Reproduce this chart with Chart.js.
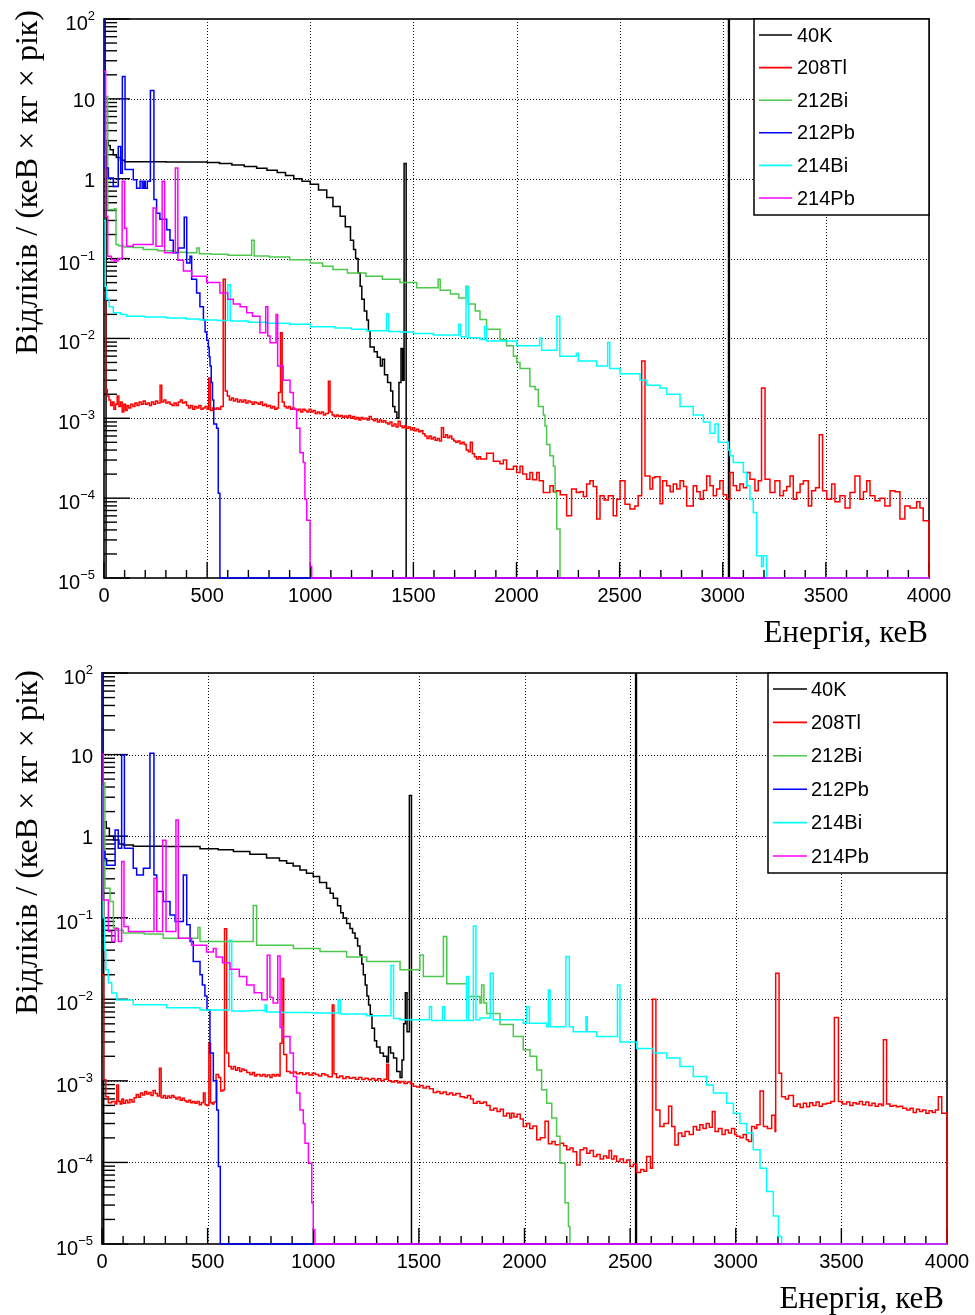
<!DOCTYPE html>
<html><head><meta charset="utf-8">
<script src="https://cdn.jsdelivr.net/npm/chart.js@4.4.0/dist/chart.umd.min.js"></script>
<style>
html,body{margin:0;padding:0;background:#fff;}
#wrap{position:relative;width:975px;height:1315px;overflow:hidden;}
.pane{position:absolute;left:0;width:975px;}
canvas{display:block;}
</style></head><body>
<div id="wrap">
<div class="pane" style="top:0;height:655px"><canvas id="c1" width="975" height="655"></canvas></div>
<div class="pane" style="top:655px;height:660px"><canvas id="c2" width="975" height="660"></canvas></div>
</div>
<script>
// ---------- tick labels / names ----------
const xTickValues = [0,500,1000,1500,2000,2500,3000,3500,4000];
const yTickExponents = [-5,-4,-3,-2,-1,0,1,2];
const seriesNames = ['40K','208Tl','212Bi','212Pb','214Bi','214Pb'];
const xAxisTitle = 'Енергія, кеВ';
const yAxisTitle = 'Відліків / (кеВ × кг × рік)';

// ---------- top panel: [energy keV (bin start), counts] ----------
const topK40 = [[0,1e-5],[10,3.0],[20,2.6],[30,2.3],[45,2.0],[60,1.85],[80,1.7],[100,1.63],[300,1.62],[500,1.6],[560,1.55],[620,1.48],[680,1.42],[740,1.35],[790,1.28],[840,1.2],[880,1.1],[920,1.0],[960,0.93],[1000,0.85],[1040,0.72],[1080,0.58],[1110,0.45],[1145,0.34],[1170,0.25],[1195,0.17],[1210,0.13],[1220,0.1],[1232,0.066],[1242,0.045],[1250,0.031],[1262,0.022],[1274,0.017],[1282,0.0125],[1290,0.0078],[1310,0.0068],[1325,0.0058],[1340,0.0045],[1350,0.0055],[1360,0.0035],[1375,0.0028],[1390,0.0022],[1400,0.0014],[1410,0.0012],[1420,0.001],[1430,0.0028],[1440,0.0075],[1448,0.003],[1455,1.55],[1465,1e-5],[3028,1000],[3032,1e-5],[4000,1e-5]];
const topTl208 = [[0,0.037],[8,2.3e-3],[16,1.9e-3],[24,1.7e-3],[32,1.45e-3],[40,1.6e-3],[48,1.3e-3],[56,1.5e-3],[64,1.9e-3],[72,1.4e-3],[80,1.6e-3],[88,1.2e-3],[96,1.5e-3],[104,1.25e-3],[112,1.45e-3],[120,1.35e-3],[130,1.5e-3],[140,1.4e-3],[150,1.55e-3],[160,1.45e-3],[170,1.6e-3],[180,1.5e-3],[190,1.65e-3],[200,1.5e-3],[210,1.55e-3],[220,1.45e-3],[230,1.6e-3],[240,1.5e-3],[250,1.65e-3],[260,1.55e-3],[272,2.6e-3],[280,1.6e-3],[290,1.7e-3],[300,1.55e-3],[310,1.6e-3],[320,1.5e-3],[330,1.45e-3],[340,1.55e-3],[350,1.45e-3],[360,1.6e-3],[370,1.7e-3],[380,1.55e-3],[390,1.6e-3],[400,1.45e-3],[410,1.35e-3],[420,1.45e-3],[430,1.3e-3],[440,1.4e-3],[450,1.35e-3],[460,1.45e-3],[470,1.3e-3],[480,1.35e-3],[490,1.4e-3],[500,1.3e-3],[508,3.2e-3],[516,1.25e-3],[526,1.35e-3],[536,1.3e-3],[546,1.35e-3],[556,1.3e-3],[566,1.4e-3],[578,0.055],[588,2.2e-3],[598,1.9e-3],[608,1.7e-3],[618,1.8e-3],[628,1.65e-3],[638,1.75e-3],[648,1.6e-3],[658,1.7e-3],[668,1.6e-3],[678,1.7e-3],[688,1.55e-3],[698,1.65e-3],[708,1.6e-3],[718,1.5e-3],[728,1.6e-3],[738,1.55e-3],[748,1.5e-3],[758,1.6e-3],[768,1.45e-3],[778,1.5e-3],[788,1.4e-3],[798,1.45e-3],[808,1.35e-3],[818,1.4e-3],[828,1.3e-3],[838,1.35e-3],[846,2.1e-3],[856,0.0118],[864,1.6e-3],[874,1.4e-3],[884,1.35e-3],[894,1.4e-3],[904,1.3e-3],[914,1.35e-3],[924,1.3e-3],[934,1.25e-3],[944,1.3e-3],[954,1.2e-3],[964,1.3e-3],[974,1.25e-3],[984,1.2e-3],[994,1.3e-3],[1004,1.2e-3],[1014,1.25e-3],[1024,1.15e-3],[1034,1.2e-3],[1044,1.15e-3],[1054,1.2e-3],[1064,1.1e-3],[1074,1.15e-3],[1088,2.9e-3],[1096,1.2e-3],[1106,1.1e-3],[1116,1.05e-3],[1126,1.1e-3],[1136,1.05e-3],[1146,1.08e-3],[1156,1.02e-3],[1166,1.07e-3],[1176,1.02e-3],[1186,1.08e-3],[1196,1.0e-3],[1206,1.05e-3],[1216,0.98e-3],[1226,1.02e-3],[1236,0.95e-3],[1246,1.02e-3],[1256,0.98e-3],[1266,1.0e-3],[1276,0.95e-3],[1286,1.05e-3],[1296,0.97e-3],[1306,0.93e-3],[1316,0.98e-3],[1326,0.9e-3],[1336,0.95e-3],[1346,0.9e-3],[1356,0.93e-3],[1366,0.88e-3],[1376,0.85e-3],[1386,0.9e-3],[1396,0.8e-3],[1406,0.85e-3],[1416,0.78e-3],[1426,0.92e-3],[1436,0.8e-3],[1446,0.76e-3],[1456,0.8e-3],[1466,0.75e-3],[1476,0.78e-3],[1486,0.72e-3],[1496,0.76e-3],[1506,0.7e-3],[1516,0.73e-3],[1526,0.68e-3],[1536,0.7e-3],[1546,0.64e-3],[1556,0.6e-3],[1566,0.56e-3],[1576,0.6e-3],[1586,0.55e-3],[1596,0.58e-3],[1606,0.53e-3],[1616,0.56e-3],[1626,0.52e-3],[1636,0.76e-3],[1646,0.58e-3],[1656,0.62e-3],[1666,0.57e-3],[1676,0.6e-3],[1686,0.55e-3],[1696,0.52e-3],[1706,0.5e-3],[1716,0.52e-3],[1726,0.48e-3],[1736,0.5e-3],[1746,0.47e-3],[1756,0.4e-3],[1766,0.38e-3],[1776,0.5e-3],[1786,0.36e-3],[1796,0.33e-3],[1806,0.31e-3],[1816,0.33e-3],[1826,0.31e-3],[1855,0.365e-3],[1888,0.29e-3],[1920,0.27e-3],[1936,0.3e-3],[1952,0.23e-3],[1985,0.25e-3],[2001,0.21e-3],[2017,0.25e-3],[2030,0.2e-3],[2049,0.173e-3],[2065,0.21e-3],[2078,0.17e-3],[2098,0.21e-3],[2110,0.165e-3],[2130,0.118e-3],[2162,0.143e-3],[2178,0.12e-3],[2195,0.124e-3],[2212,0.11e-3],[2243,0.06e-3],[2267,0.13e-3],[2290,0.118e-3],[2308,0.12e-3],[2324,0.105e-3],[2340,0.15e-3],[2356,0.165e-3],[2372,0.14e-3],[2389,0.055e-3],[2405,0.107e-3],[2425,0.095e-3],[2445,0.107e-3],[2469,0.06e-3],[2486,0.097e-3],[2502,0.165e-3],[2526,0.084e-3],[2550,0.073e-3],[2574,0.08e-3],[2590,0.107e-3],[2607,5.2e-3],[2623,0.19e-3],[2647,0.13e-3],[2660,0.18e-3],[2671,0.185e-3],[2696,0.085e-3],[2709,0.165e-3],[2728,0.143e-3],[2745,0.12e-3],[2760,0.15e-3],[2777,0.13e-3],[2793,0.165e-3],[2810,0.14e-3],[2825,0.08e-3],[2857,0.143e-3],[2874,0.12e-3],[2890,0.097e-3],[2906,0.125e-3],[2922,0.19e-3],[2938,0.143e-3],[2954,0.107e-3],[2970,0.13e-3],[2986,0.165e-3],[3002,0.11e-3],[3019,0.097e-3],[3035,0.21e-3],[3051,0.143e-3],[3067,0.125e-3],[3083,0.15e-3],[3100,0.135e-3],[3116,0.21e-3],[3132,0.173e-3],[3156,0.124e-3],[3172,0.165e-3],[3188,2.4e-3],[3205,0.173e-3],[3229,0.118e-3],[3253,0.165e-3],[3277,0.107e-3],[3294,0.124e-3],[3310,0.14e-3],[3326,0.19e-3],[3342,0.097e-3],[3358,0.118e-3],[3375,0.15e-3],[3391,0.165e-3],[3415,0.08e-3],[3431,0.124e-3],[3450,0.135e-3],[3468,6.2e-4],[3484,0.124e-3],[3504,0.097e-3],[3528,0.15e-3],[3544,0.09e-3],[3568,0.107e-3],[3593,0.075e-3],[3617,0.118e-3],[3641,0.19e-3],[3665,0.097e-3],[3682,0.12e-3],[3698,0.165e-3],[3714,0.107e-3],[3738,0.093e-3],[3762,0.1e-3],[3786,0.08e-3],[3811,0.124e-3],[3835,0.12e-3],[3859,0.055e-3],[3883,0.08e-3],[3908,0.075e-3],[3940,0.09e-3],[3956,0.075e-3],[3972,0.052e-3],[4000,1e-5]];
const topBi212 = [[0,2.0],[8,10.7],[18,0.41],[50,0.42],[58,0.15],[70,0.145],[95,0.14],[140,0.138],[190,0.13],[260,0.125],[330,0.12],[400,0.118],[450,0.136],[462,0.115],[520,0.113],[600,0.11],[716,0.17],[728,0.108],[800,0.105],[900,0.097],[1000,0.088],[1060,0.08],[1110,0.073],[1180,0.066],[1270,0.06],[1350,0.055],[1435,0.05],[1516,0.043],[1620,0.055],[1630,0.04],[1680,0.036],[1720,0.032],[1755,0.045],[1765,0.027],[1800,0.022],[1823,0.0173],[1855,0.013],[1920,0.0097],[1952,0.0081],[1985,0.006],[2001,0.005],[2017,0.0042],[2065,0.0025],[2090,0.0023],[2106,0.0014],[2130,0.0011],[2138,8e-4],[2146,4.7e-4],[2162,3.4e-4],[2179,2.5e-4],[2187,1.17e-4],[2195,4.1e-5],[2211,1e-5],[4000,1e-5]];
const topPb212 = [[0,300],[6,1.36],[21,1.02],[45,0.8],[69,2.53],[81,1.17],[89,19],[102,1.3],[142,0.97],[158,0.76],[175,0.93],[185,0.76],[193,0.93],[200,0.76],[210,0.93],[225,12.7],[242,0.55],[255,0.37],[271,0.31],[304,0.23],[320,0.17],[336,0.118],[360,0.136],[389,0.33],[401,0.088],[417,0.107],[425,0.055],[449,0.037],[465,0.025],[482,0.017],[490,0.012],[498,0.0095],[506,0.0077],[510,0.0059],[514,0.0045],[520,0.0028],[526,0.0017],[532,8.5e-4],[546,7.5e-4],[554,1.15e-4],[562,1e-5],[4000,1e-5]];
const topBi214 = [[0,0.3],[6,0.045],[13,0.031],[25,0.025],[45,0.021],[80,0.02],[110,0.019],[200,0.0185],[304,0.018],[400,0.0175],[465,0.017],[550,0.0168],[600,0.047],[612,0.0165],[700,0.016],[789,0.0155],[900,0.015],[1000,0.014],[1120,0.0135],[1200,0.013],[1273,0.0125],[1370,0.0203],[1380,0.0122],[1435,0.012],[1500,0.0115],[1597,0.011],[1720,0.015],[1730,0.0105],[1755,0.044],[1768,0.0102],[1823,0.0097],[1845,0.0142],[1855,0.0093],[2001,0.0081],[2112,0.0101],[2122,0.0071],[2196,0.019],[2210,0.006],[2290,0.0065],[2300,0.0052],[2389,0.0045],[2442,0.0089],[2452,0.0042],[2502,0.0036],[2599,0.003],[2631,0.0026],[2696,0.0024],[2728,0.002],[2793,0.0014],[2857,0.0011],[2906,9e-4],[2938,6.5e-4],[2962,8.5e-4],[2978,5e-4],[3027,4e-4],[3035,3.4e-4],[3051,2.8e-4],[3100,2.1e-4],[3116,1.43e-4],[3132,9.7e-5],[3148,6.6e-5],[3164,1.9e-5],[3188,1.4e-5],[3197,1.9e-5],[3213,1e-5],[4000,1e-5]];
const topPb214 = [[0,22],[8,0.34],[18,0.107],[36,0.097],[52,0.093],[68,0.1],[88,0.93],[100,0.24],[110,0.143],[142,0.15],[238,0.43],[252,0.143],[282,0.93],[294,0.118],[346,1.36],[358,0.095],[385,0.07],[425,0.06],[498,0.05],[562,0.037],[600,0.031],[627,0.027],[660,0.025],[692,0.021],[720,0.019],[756,0.0118],[784,0.025],[794,0.0107],[805,0.0088],[834,0.02],[842,0.0045],[869,0.003],[902,0.0021],[918,0.0013],[934,7.5e-4],[950,3.7e-4],[966,2.8e-4],[974,9.7e-5],[983,5.3e-5],[999,1.4e-5],[1007,1e-5],[4000,1e-5]];

// ---------- bottom panel ----------
const botK40 = [[0,1e-5],[8,1.5],[20,1.25],[35,1.0],[55,0.9],[80,0.8],[101,0.78],[148,0.75],[300,0.745],[464,0.7],[550,0.68],[622,0.65],[700,0.6],[779,0.54],[840,0.5],[874,0.466],[905,0.43],[937,0.385],[968,0.35],[1000,0.32],[1030,0.27],[1063,0.23],[1080,0.2],[1095,0.173],[1115,0.14],[1130,0.115],[1142,0.099],[1158,0.085],[1174,0.074],[1186,0.065],[1198,0.056],[1210,0.045],[1221,0.035],[1230,0.027],[1237,0.02],[1246,0.015],[1254,0.011],[1262,0.0085],[1270,0.0065],[1278,0.0044],[1290,0.0031],[1300,0.0026],[1316,0.0022],[1332,0.002],[1348,0.0017],[1356,0.0026],[1366,0.0022],[1380,0.0019],[1395,0.0013],[1411,0.0011],[1420,0.0018],[1428,0.005],[1436,0.012],[1444,0.004],[1455,3.14],[1465,1e-5],[2526,1000],[2530,1e-5],[4000,1e-5]];
const botTl208 = [[0,0.02],[8,1.03e-3],[18,6.4e-4],[30,5.4e-4],[46,5.6e-4],[62,5.2e-4],[70,8.9e-4],[78,5.6e-4],[86,5.2e-4],[94,6e-4],[102,5.3e-4],[112,5.8e-4],[122,5.4e-4],[132,5.9e-4],[142,5.5e-4],[152,6.2e-4],[162,6.8e-4],[172,6.3e-4],[182,7.1e-4],[192,6.7e-4],[202,7.4e-4],[212,6.9e-4],[222,7.2e-4],[232,6.6e-4],[242,7.6e-4],[252,7.0e-4],[262,6.5e-4],[272,1.43e-3],[280,6.2e-4],[290,6.6e-4],[300,6.1e-4],[310,6.5e-4],[320,6.2e-4],[330,6.6e-4],[340,6.3e-4],[350,6.0e-4],[360,6.3e-4],[370,5.8e-4],[380,6.1e-4],[390,5.7e-4],[400,5.5e-4],[410,5.8e-4],[420,5.4e-4],[430,5.6e-4],[440,5.3e-4],[450,5.6e-4],[460,5.1e-4],[470,5.4e-4],[480,7.1e-4],[488,5.1e-4],[496,5.0e-4],[506,2.9e-3],[514,5.4e-4],[522,5.2e-4],[530,5.5e-4],[540,1.2e-3],[552,1.1e-3],[562,7.5e-4],[572,7.7e-4],[580,0.073],[590,2.2e-3],[600,1.5e-3],[612,1.4e-3],[622,1.5e-3],[632,1.35e-3],[642,1.45e-3],[652,1.3e-3],[662,1.4e-3],[672,1.35e-3],[685,1.27e-3],[700,1.2e-3],[712,1.27e-3],[722,1.15e-3],[732,1.2e-3],[748,1.15e-3],[760,1.2e-3],[772,1.13e-3],[782,1.18e-3],[795,1.1e-3],[805,1.2e-3],[815,1.15e-3],[825,1.2e-3],[835,1.15e-3],[843,2.9e-3],[852,0.018],[860,2.1e-3],[874,1.3e-3],[890,1.25e-3],[906,1.28e-3],[920,1.22e-3],[935,1.26e-3],[950,1.2e-3],[965,1.25e-3],[980,1.18e-3],[995,1.24e-3],[1010,1.2e-3],[1025,1.15e-3],[1040,1.22e-3],[1055,1.18e-3],[1070,1.12e-3],[1090,8.5e-3],[1098,1.22e-3],[1110,1.1e-3],[1125,1.15e-3],[1140,1.07e-3],[1155,1.12e-3],[1170,1.08e-3],[1185,1.1e-3],[1200,1.05e-3],[1215,1.1e-3],[1230,1.04e-3],[1245,1.08e-3],[1260,1.03e-3],[1275,1.07e-3],[1290,1.02e-3],[1305,1.06e-3],[1320,1.0e-3],[1335,1.05e-3],[1348,1.6e-3],[1356,1.0e-3],[1370,0.97e-3],[1385,1.0e-3],[1400,0.95e-3],[1415,0.98e-3],[1430,0.93e-3],[1445,0.97e-3],[1460,0.92e-3],[1474,0.86e-3],[1490,0.84e-3],[1505,0.88e-3],[1520,0.82e-3],[1535,0.85e-3],[1550,0.8e-3],[1568,0.72e-3],[1585,0.74e-3],[1600,0.7e-3],[1615,0.73e-3],[1630,0.68e-3],[1645,0.71e-3],[1660,0.67e-3],[1675,0.7e-3],[1695,0.64e-3],[1715,0.62e-3],[1730,0.66e-3],[1745,0.6e-3],[1758,0.53e-3],[1775,0.56e-3],[1789,0.53e-3],[1805,0.55e-3],[1820,0.5e-3],[1837,0.44e-3],[1855,0.46e-3],[1870,0.42e-3],[1885,0.45e-3],[1900,0.37e-3],[1915,0.4e-3],[1930,0.35e-3],[1939,0.4e-3],[1950,0.36e-3],[1965,0.39e-3],[1980,0.34e-3],[1994,0.275e-3],[2010,0.3e-3],[2025,0.26e-3],[2040,0.28e-3],[2058,0.19e-3],[2075,0.2e-3],[2097,0.32e-3],[2113,0.17e-3],[2130,0.18e-3],[2145,0.165e-3],[2168,0.172e-3],[2185,0.16e-3],[2200,0.143e-3],[2215,0.15e-3],[2230,0.135e-3],[2247,0.093e-3],[2263,0.143e-3],[2280,0.15e-3],[2295,0.13e-3],[2310,0.14e-3],[2326,0.118e-3],[2342,0.125e-3],[2358,0.11e-3],[2374,0.12e-3],[2389,0.113e-3],[2400,0.14e-3],[2412,0.11e-3],[2424,0.12e-3],[2436,0.103e-3],[2452,0.11e-3],[2468,0.1e-3],[2484,0.107e-3],[2499,0.089e-3],[2515,0.095e-3],[2531,0.075e-3],[2550,0.082e-3],[2565,0.078e-3],[2578,0.118e-3],[2596,0.085e-3],[2606,0.01],[2622,0.44e-3],[2641,0.275e-3],[2660,0.3e-3],[2682,0.49e-3],[2697,0.275e-3],[2712,0.164e-3],[2728,0.23e-3],[2745,0.21e-3],[2760,0.24e-3],[2780,0.22e-3],[2799,0.275e-3],[2815,0.25e-3],[2830,0.29e-3],[2845,0.26e-3],[2860,0.3e-3],[2875,0.27e-3],[2889,0.42e-3],[2902,0.24e-3],[2918,0.26e-3],[2935,0.22e-3],[2950,0.25e-3],[2965,0.23e-3],[2980,0.26e-3],[2995,0.22e-3],[3004,0.21e-3],[3020,0.2e-3],[3035,0.22e-3],[3050,0.19e-3],[3060,0.18e-3],[3075,0.275e-3],[3090,0.26e-3],[3100,0.29e-3],[3115,0.75e-3],[3131,0.275e-3],[3150,0.26e-3],[3170,0.38e-3],[3186,0.24e-3],[3189,0.0209],[3205,1.24e-3],[3217,0.64e-3],[3235,0.6e-3],[3250,0.66e-3],[3273,0.49e-3],[3290,0.52e-3],[3305,0.47e-3],[3320,0.53e-3],[3335,0.48e-3],[3350,0.54e-3],[3365,0.5e-3],[3380,0.55e-3],[3395,0.49e-3],[3410,0.52e-3],[3430,0.53e-3],[3450,0.56e-3],[3467,0.006],[3486,0.56e-3],[3505,0.52e-3],[3525,0.55e-3],[3540,0.5e-3],[3555,0.54e-3],[3570,0.52e-3],[3585,0.56e-3],[3600,0.51e-3],[3615,0.55e-3],[3630,0.5e-3],[3645,0.53e-3],[3660,0.49e-3],[3675,0.52e-3],[3690,0.5e-3],[3699,0.0032],[3714,0.52e-3],[3730,0.49e-3],[3745,0.5e-3],[3760,0.48e-3],[3775,0.49e-3],[3790,0.46e-3],[3809,0.44e-3],[3825,0.46e-3],[3840,0.41e-3],[3855,0.45e-3],[3870,0.42e-3],[3885,0.44e-3],[3900,0.4e-3],[3915,0.43e-3],[3930,0.41e-3],[3945,0.44e-3],[3959,0.64e-3],[3975,0.4e-3],[4000,1e-5]];
const botBi212 = [[0,4.5],[14,0.23],[38,0.158],[54,0.075],[70,0.07],[101,0.065],[200,0.063],[290,0.056],[454,0.076],[464,0.051],[716,0.141],[732,0.046],[906,0.042],[1032,0.0385],[1158,0.033],[1253,0.029],[1411,0.023],[1505,0.035],[1521,0.019],[1616,0.059],[1632,0.0155],[1726,0.0108],[1789,0.009],[1797,0.015],[1808,0.009],[1821,0.0067],[1884,0.0049],[1947,0.0035],[1994,0.0024],[2026,0.002],[2058,0.00136],[2081,7.8e-4],[2105,5.3e-4],[2129,3.5e-4],[2152,2.1e-4],[2168,9.8e-5],[2192,3.2e-5],[2208,1.64e-5],[2215,1e-5],[4000,1e-5]];
const botPb212 = [[0,300],[6,0.65],[14,0.53],[22,0.44],[62,1.19],[77,0.71],[93,9.9],[106,0.71],[148,0.404],[164,0.335],[196,0.404],[227,10.4],[246,0.335],[259,0.209],[290,0.158],[322,0.108],[346,0.09],[385,0.335],[401,0.082],[417,0.051],[432,0.029],[464,0.02],[475,0.015],[487,0.011],[497,0.0074],[511,0.0022],[527,0.001],[543,4.4e-4],[551,8.9e-5],[560,1e-5],[4000,1e-5]];
const botBi214 = [[0,4.05],[6,0.1],[12,0.04],[18,0.023],[30,0.016],[46,0.0119],[70,0.0098],[148,0.0086],[306,0.0079],[464,0.0074],[603,0.053],[614,0.0072],[700,0.0073],[766,0.0072],[772,0.0085],[780,0.007],[850,0.0069],[1000,0.0068],[1118,0.0098],[1128,0.0066],[1253,0.0063],[1368,0.026],[1380,0.0058],[1411,0.0056],[1550,0.0081],[1560,0.0055],[1612,0.0081],[1622,0.0055],[1726,0.019],[1736,0.0055],[1758,0.079],[1770,0.0056],[1789,0.0059],[1838,0.0208],[1852,0.0056],[1994,0.0051],[2010,0.0081],[2023,0.0051],[2105,0.0046],[2113,0.013],[2121,0.0046],[2196,0.0334],[2212,0.0046],[2231,0.004],[2291,0.0061],[2297,0.004],[2342,0.0035],[2440,0.015],[2452,0.003],[2531,0.0025],[2610,0.0022],[2673,0.0019],[2736,0.0015],[2799,0.00113],[2862,8.9e-4],[2894,7.1e-4],[2957,5.3e-4],[2989,4e-4],[3020,3e-4],[3052,2.3e-4],[3083,1.43e-4],[3115,8.5e-5],[3146,4.4e-5],[3178,2.2e-5],[3202,1.24e-5],[3217,1e-5],[4000,1e-5]];
const botPb214 = [[0,10.1],[6,0.165],[30,0.068],[46,0.051],[62,0.074],[77,0.051],[93,0.49],[104,0.078],[125,0.068],[246,0.305],[259,0.068],[287,0.89],[303,0.068],[350,1.58],[361,0.056],[424,0.046],[495,0.038],[527,0.042],[540,0.033],[570,0.028],[606,0.0233],[650,0.019],[685,0.015],[720,0.012],[756,0.0099],[782,0.0347],[795,0.0105],[810,0.009],[832,0.034],[843,0.0045],[858,0.0035],[890,0.0022],[906,0.00113],[921,7.1e-4],[937,4.4e-4],[953,3e-4],[961,1.72e-4],[977,9.8e-5],[993,3.2e-5],[1000,1.5e-5],[1008,1e-5],[4000,1e-5]];

// ---------- styles ----------
const seriesColors = ['#000000','#ff0000','#4cc84c','#0000ff','#00ffff','#ff00ff'];
const SANS = '"Liberation Sans", Arial, Helvetica, sans-serif';
const SERIF = '"Liberation Serif", "Times New Roman", serif';

function rootStylePlugin(cfg) {
  function line(ctx, x0, y0, x1, y1) { ctx.beginPath(); ctx.moveTo(x0, y0); ctx.lineTo(x1, y1); ctx.stroke(); }
  return {
    id: 'rootStyle',
    beforeDatasetsDraw(chart) {
      const ctx = chart.ctx, a = chart.chartArea, xs = chart.scales.x, ys = chart.scales.y;
      ctx.save();
      // dotted grid
      ctx.strokeStyle = '#111'; ctx.lineWidth = 1; ctx.setLineDash([1, 2]);
      xTickValues.forEach(v => {
        if (v <= xs.min || v >= xs.max) return;
        const px = Math.round(xs.getPixelForValue(v)) + 0.5;
        line(ctx, px, a.top, px, a.bottom);
      });
      yTickExponents.forEach(e => {
        const v = Math.pow(10, e);
        if (v <= ys.min * 1.0001 || v >= ys.max * 0.9999) return;
        const py = Math.round(ys.getPixelForValue(v)) + 0.5;
        line(ctx, a.left, py, a.right, py);
      });
      ctx.setLineDash([]);
      ctx.strokeStyle = '#000';
      // ticks
      ctx.lineWidth = 1.4;
      const step = (xTickValues[1] - xTickValues[0]) / 5;
      for (let v = xs.min; v <= xs.max + 1e-9; v += step) {
        const px = xs.getPixelForValue(v);
        const major = xTickValues.includes(Math.round(v));
        line(ctx, px, a.bottom, px, a.bottom - (major ? 16 : 8));
      }
      yTickExponents.forEach(e => {
        for (let m = 1; m <= 9; m++) {
          const v = m * Math.pow(10, e);
          if (v > ys.max * 1.0001) break;
          const py = ys.getPixelForValue(v);
          line(ctx, a.left, py, a.left + (m === 1 ? 26 : 13), py);
        }
      });
      // frame
      ctx.lineWidth = 1.6;
      ctx.strokeRect(a.left, a.top, a.right - a.left, a.bottom - a.top);
      ctx.restore();
    },
    afterDatasetsDraw(chart) {
      const ctx = chart.ctx, a = chart.chartArea, xs = chart.scales.x, ys = chart.scales.y;
      ctx.save();
      ctx.setLineDash([]);
      ctx.strokeStyle = '#000';
      // x tick labels
      ctx.fillStyle = '#000';
      ctx.font = '20px ' + SANS;
      ctx.textAlign = 'center'; ctx.textBaseline = 'alphabetic';
      xTickValues.forEach(v => ctx.fillText(String(v), xs.getPixelForValue(v), a.bottom + 24));
      // y tick labels
      const xr = a.left - 9;
      yTickExponents.forEach(e => {
        const py = ys.getPixelForValue(Math.pow(10, e));
        if (e === 0 || e === 1) {
          ctx.font = '20px ' + SANS; ctx.textAlign = 'right';
          ctx.fillText(e === 0 ? '1' : '10', xr, py + 8);
        } else {
          const ex = e < 0 ? '\u2212' + (-e) : String(e);
          ctx.font = '13px ' + SANS; ctx.textAlign = 'right';
          const w = ctx.measureText(ex).width;
          ctx.fillText(ex, xr, py + 1);
          ctx.font = '20px ' + SANS;
          ctx.fillText('10', xr - w, py + 11);
        }
      });
      // axis titles
      ctx.font = '31px ' + SERIF;
      ctx.textAlign = 'right';
      ctx.fillText(xAxisTitle, a.right + cfg.xTitleDx, a.bottom + 64);
      ctx.save();
      ctx.font = '32px ' + SERIF;
      ctx.translate(cfg.yTitleX, a.top + cfg.yTitleDy);
      ctx.rotate(-Math.PI / 2);
      ctx.textAlign = 'right';
      ctx.fillText(yAxisTitle, 0, 0);
      ctx.restore();
      // legend
      const L = cfg.legend;
      const bx0 = a.right - L.w, by0 = a.top;
      ctx.fillStyle = '#fff';
      ctx.fillRect(bx0, by0, L.w, L.h);
      ctx.lineWidth = 1.5; ctx.strokeStyle = '#000';
      ctx.strokeRect(bx0, by0, L.w, L.h);
      ctx.font = '20px ' + SANS; ctx.textAlign = 'left'; ctx.textBaseline = 'middle';
      chart.data.datasets.forEach((ds, i) => {
        const yy = by0 + L.first + i * L.step;
        ctx.strokeStyle = ds.borderColor; ctx.lineWidth = 1.6;
        line(ctx, bx0 + 5, yy, bx0 + L.lineEnd, yy);
        ctx.fillStyle = '#000';
        ctx.fillText(ds.label, bx0 + L.textX, yy + 1);
      });
      ctx.restore();
    }
  };
}

function makeChart(id, seriesList, cfg) {
  const datasets = seriesList.map((arr, i) => ({
    label: seriesNames[i],
    data: arr.map(p => ({ x: p[0], y: p[1] })),
    borderColor: seriesColors[i],
    borderWidth: 1.5,
    stepped: true,
    fill: false,
    pointRadius: 0,
    order: seriesList.length - i,
    clip: { left: 1, top: 0, right: 1, bottom: 2 }
  }));
  return new Chart(document.getElementById(id), {
    type: 'line',
    data: { datasets },
    options: {
      responsive: false,
      devicePixelRatio: 1,
      animation: false,
      events: [],
      layout: { padding: cfg.padding },
      plugins: { legend: { display: false }, tooltip: { enabled: false } },
      scales: {
        x: { type: 'linear', min: 0, max: 4000, display: false },
        y: { type: 'logarithmic', min: 1e-5, max: 100, display: false }
      }
    },
    plugins: [rootStylePlugin(cfg)]
  });
}

makeChart('c1', [topK40, topTl208, topBi212, topPb212, topBi214, topPb214], {
  padding: { left: 104, right: 46, top: 19, bottom: 77 },
  xTitleDx: -1, yTitleX: 37, yTitleDy: -9,
  legend: { w: 175, h: 196, first: 16, step: 32.6, lineEnd: 38, textX: 43 }
});
makeChart('c2', [botK40, botTl208, botBi212, botPb212, botBi214, botPb214], {
  padding: { left: 102, right: 28, top: 18, bottom: 71 },
  xTitleDx: -3, yTitleX: 37, yTitleDy: -3,
  legend: { w: 179, h: 200, first: 16, step: 33.4, lineEnd: 39, textX: 43 }
});
</script>
</body></html>
